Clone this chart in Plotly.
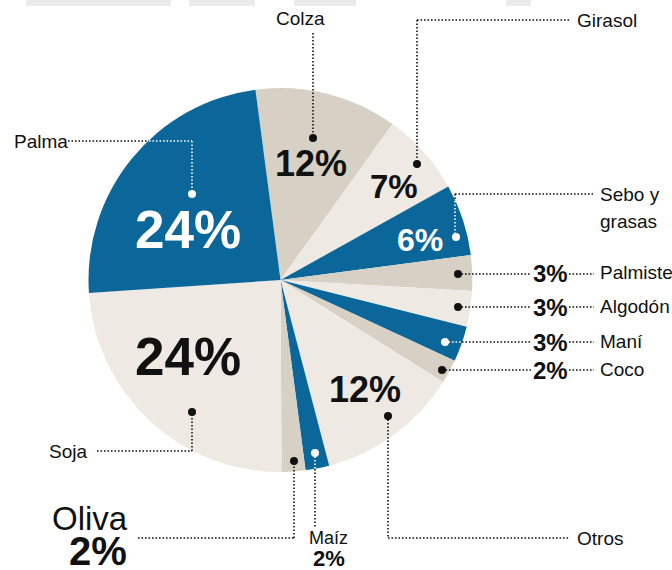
import plotly.graph_objects as go

W, H = 672, 570

# --- data -------------------------------------------------------------
categories = ["Colza", "Girasol", "Sebo y grasas", "Palmiste", "Algodón",
              "Maní", "Coco", "Otros", "Maíz", "Oliva", "Soja", "Palma"]
shares = [12, 7, 6, 3, 3, 3, 2, 12, 2, 2, 24, 24]

# --- style ------------------------------------------------------------
BLUE = "#0b679a"
STONE = "#d7d1c5"
CREAM = "#eeeae3"
INK = "#111111"
slice_colors = [STONE, CREAM, BLUE, STONE, CREAM, BLUE,
                STONE, CREAM, BLUE, STONE, CREAM, BLUE]

BOLD = "Liberation Sans"
PLAIN = "Liberation Sans"
LABEL_SIZE = 19

CX, CY, R = 280.5, 280.0, 192.0   # pie centre / radius in pixels


def px(x):
    return x / W


def py(y):
    return 1 - y / H


fig = go.Figure()
fig.add_trace(go.Pie(
    labels=categories,
    values=shares,
    sort=False,
    direction="clockwise",
    rotation=-7.5,
    marker=dict(colors=slice_colors, line=dict(width=0)),
    textinfo="none",
    hoverinfo="label+percent",
    showlegend=False,
    domain=dict(x=[px(CX - R), px(CX + R)], y=[py(CY + R), py(CY - R)]),
))

share_of = dict(zip(categories, shares))
fill_of = dict(zip(categories, slice_colors))

annotations = []
shapes = []


def text(x, y, s, size=LABEL_SIZE, family=PLAIN, color=INK, anchor="center", bold=False):
    annotations.append(dict(
        x=px(x), y=py(y), xref="paper", yref="paper",
        text=f"<b>{s}</b>" if bold else s, showarrow=False,
        xanchor=anchor, yanchor="middle",
        font=dict(family=family, size=size, color=color),
    ))


def pct(name, x, y, size):
    color = "white" if fill_of[name] == BLUE else INK
    text(x, y, f"{share_of[name]}%", size, family=BOLD, color=color, bold=True)


def seg(x0, y0, x1, y1, color=INK):
    shapes.append(dict(
        type="line", xref="paper", yref="paper", layer="above",
        x0=px(x0), y0=py(y0), x1=px(x1), y1=py(y1),
        line=dict(color=color, width=1.6, dash="1.6px,1.9px"),
    ))


def dot(x, y, color=INK, r=4):
    shapes.append(dict(
        type="circle", xref="paper", yref="paper", layer="above",
        x0=px(x - r), x1=px(x + r), y0=py(y - r), y1=py(y + r),
        fillcolor=color, line=dict(width=0),
    ))


# faint header bars cut off at the top edge
for x0, x1 in [(26, 171), (189, 255), (294, 356), (506, 531)]:
    shapes.append(dict(type="rect", xref="paper", yref="paper", layer="below",
                       x0=px(x0), x1=px(x1), y0=py(6), y1=py(0),
                       fillcolor="#ebebeb", line=dict(width=0)))

# percentages inside the big slices
pct("Palma", 188, 230, 53)
pct("Soja", 188, 357, 53)
pct("Colza", 311, 163, 36)
pct("Otros", 365, 389, 36)
pct("Girasol", 394, 186, 33)
pct("Sebo y grasas", 420, 240, 32)

# Colza
text(300, 19, "Colza")
seg(313, 33, 313, 138)
dot(313, 138)

# Girasol
text(575, 20, "Girasol", anchor="left")
seg(417, 20, 571, 20)
seg(417, 20, 417, 164)
dot(417, 164)

# Sebo y grasas
text(598, 195, "Sebo y", anchor="left")
text(598, 221, "grasas", anchor="left")
seg(455, 194, 593, 194)
seg(455, 194, 455, 201)
seg(455, 201, 455, 237, "white")
dot(456, 237, "white")

# small slices on the right, value and name in a row
for name, yy, dx, on_blue in [("Palmiste", 274, 458, False),
                              ("Algodón", 307, 458, False),
                              ("Maní", 342, 445, True),
                              ("Coco", 370, 442, False)]:
    if on_blue:
        seg(dx, yy, 462, yy, "white")
        seg(462, yy, 531, yy)
        dot(dx, yy, "white")
    else:
        seg(dx, yy, 531, yy)
        dot(dx, yy)
    seg(569, yy, 594, yy)
    text(550, yy, f"{share_of[name]}%", 24, family=BOLD, bold=True)
    text(598, yy - 1, name, anchor="left")

# Otros
text(575, 538, "Otros", anchor="left")
seg(388, 416, 388, 538)
seg(388, 538, 569, 538)
dot(388, 416)

# Maíz
text(328, 538, "Maíz", 18)
text(329, 558, f"{share_of['Maíz']}%", 22, family=BOLD, bold=True)
seg(315, 453, 315, 469, "white")
seg(315, 469, 315, 527)
dot(315, 453, "white")

# Oliva
text(90, 518, "Oliva", 33)
text(98, 551, f"{share_of['Oliva']}%", 40, family=BOLD, bold=True)
seg(138, 538, 294, 538)
seg(294, 538, 294, 461)
dot(294, 461)

# Soja
text(47, 451, "Soja", anchor="left")
seg(97, 451, 192, 451)
seg(192, 451, 192, 412)
dot(192, 412)

# Palma
text(12, 141, "Palma", anchor="left")
seg(68, 141, 149, 141)
seg(149, 141, 192, 141, "white")
seg(192, 141, 192, 194, "white")
dot(192, 194, "white")

fig.update_layout(
    width=W, height=H,
    margin=dict(l=0, r=0, t=0, b=0),
    paper_bgcolor="white",
    plot_bgcolor="white",
    annotations=annotations,
    shapes=shapes,
)

fig.write_html("out.html", config={"displayModeBar": False})
